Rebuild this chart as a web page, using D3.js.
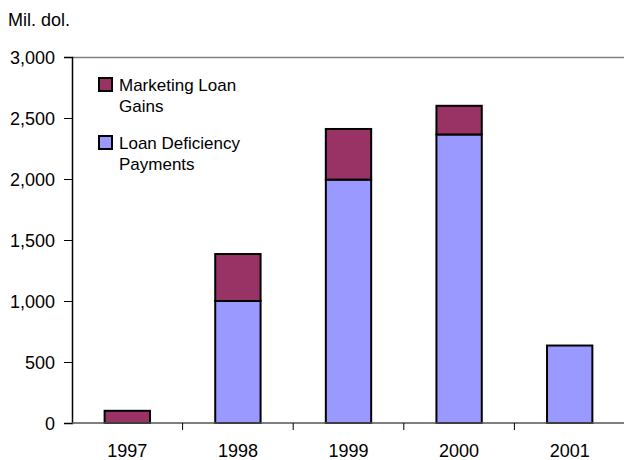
<!DOCTYPE html>
<html>
<head>
<meta charset="utf-8">
<script src="https://cdn.jsdelivr.net/npm/d3@7"></script>
<style>
  html, body { margin: 0; padding: 0; background: #fff; }
  svg text { font-family: "Liberation Sans", Arial, sans-serif; fill: #000; }
</style>
</head>
<body>
<svg id="chart" width="624" height="460"></svg>
<script>
// Stacked payments by crop year, million dollars
const years = ["1997", "1998", "1999", "2000", "2001"];
const loanDeficiencyPayments = [0, 1000, 1995, 2365, 635];
const marketingLoanGains = [100, 385, 415, 235, 0];
const yTicks = [0, 500, 1000, 1500, 2000, 2500, 3000];
const seriesColors = ["#9999FF", "#993366"];

const rows = years.map((y, i) => ({
  year: y,
  ldp: loanDeficiencyPayments[i],
  mlg: marketingLoanGains[i]
}));

const svg = d3.select("#chart");
const plotLeft = 72, plotRight = 625, plotTop = 57, plotBottom = 423;

const x = d3.scaleBand().domain(years).range([plotLeft, plotRight]).paddingInner(0.59).paddingOuter(0.295);
const xOuter = d3.scaleBand().domain(years).range([plotLeft, plotRight]);
const y = d3.scaleLinear().domain([0, 3000]).range([plotBottom, plotTop]);

const layers = d3.stack().keys(["ldp", "mlg"])(rows);

// top frame line of the plot area
svg.append("line")
  .attr("x1", plotLeft).attr("x2", 624)
  .attr("y1", plotTop + 0.5).attr("y2", plotTop + 0.5)
  .attr("stroke", "#808080").attr("stroke-width", 1.5);

// bars
layers.forEach((layer, li) => {
  svg.append("g").selectAll("rect")
    .data(layer.filter(d => d[1] - d[0] > 0))
    .join("rect")
    .attr("x", d => x(d.data.year))
    .attr("width", x.bandwidth())
    .attr("y", d => y(d[1]))
    .attr("height", d => y(d[0]) - y(d[1]))
    .attr("fill", seriesColors[li])
    .attr("stroke", "#000")
    .attr("stroke-width", 2);
});

// y axis
const yAxis = d3.axisLeft(y).tickValues(yTicks).tickSize(8).tickPadding(9)
  .tickFormat(d3.format(","));
const gy = svg.append("g").attr("transform", `translate(${plotLeft},0)`).call(yAxis);
gy.attr("font-family", null).attr("font-size", null);
gy.select(".domain").attr("stroke", "#000").attr("stroke-width", 1.5);
gy.selectAll(".tick line").attr("stroke", "#000");
gy.selectAll(".tick text").attr("font-size", 18).attr("dy", "0.36em");

// x axis: ticks sit between categories
const gx = svg.append("g").attr("transform", `translate(0,${plotBottom})`);
gx.append("line")
  .attr("x1", plotLeft).attr("x2", 624)
  .attr("y1", 0).attr("y2", 0)
  .attr("stroke", "#555").attr("stroke-width", 1.5);
gx.selectAll("line.tick")
  .data(years.slice(1))
  .join("line")
  .attr("class", "tick")
  .attr("x1", d => xOuter(d)).attr("x2", d => xOuter(d))
  .attr("y1", 0).attr("y2", 7)
  .attr("stroke", "#000");
gx.selectAll("text")
  .data(years)
  .join("text")
  .attr("x", d => xOuter(d) + xOuter.bandwidth() / 2)
  .attr("y", 34)
  .attr("text-anchor", "middle")
  .attr("font-size", 18)
  .text(d => d);

// unit label
svg.append("text").attr("x", 8).attr("y", 26).attr("font-size", 18).text("Mil. dol.");

// legend
const legend = [
  { name: ["Marketing Loan", "Gains"], color: seriesColors[1], y: 78 },
  { name: ["Loan Deficiency", "Payments"], color: seriesColors[0], y: 136 }
];
const lg = svg.append("g");
legend.forEach(item => {
  lg.append("rect")
    .attr("x", 99).attr("y", item.y)
    .attr("width", 13).attr("height", 13)
    .attr("fill", item.color)
    .attr("stroke", "#000").attr("stroke-width", 2);
  item.name.forEach((line, j) => {
    lg.append("text")
      .attr("x", 119).attr("y", item.y + 13 + j * 21)
      .attr("font-size", 17)
      .text(line);
  });
});
</script>
</body>
</html>
